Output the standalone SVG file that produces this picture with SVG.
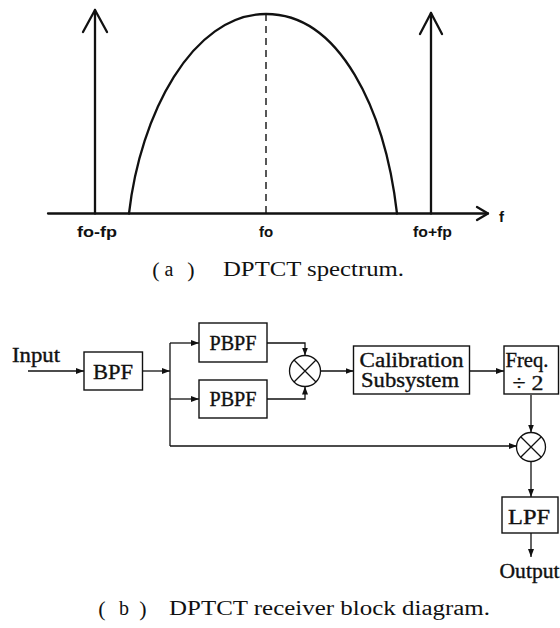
<svg xmlns="http://www.w3.org/2000/svg" width="560" height="628" viewBox="0 0 560 628">
<style>
.thick{fill:none;stroke:#111;stroke-width:2.3;stroke-linecap:round;stroke-linejoin:round}
.box{fill:#fff;stroke:#111;stroke-width:1.4}
.ln{fill:none;stroke:#111;stroke-width:1.3}
.lab{font-family:"Liberation Serif","Times New Roman",serif;font-size:20px;fill:#111;stroke:#111;stroke-width:0.35;text-anchor:middle}
.cap{font-family:"Liberation Serif","Times New Roman",serif;font-size:20px;fill:#111}
.par{font-family:"Liberation Serif","Times New Roman",serif;font-size:22px;fill:#111;text-anchor:middle}
.sans{font-family:"Liberation Sans",Arial,sans-serif;font-weight:bold;font-size:15px;fill:#111;text-anchor:middle}
</style>
<defs>
<marker id="ah" markerUnits="userSpaceOnUse" markerWidth="9" markerHeight="7" refX="8" refY="3" orient="auto">
<path d="M0,0 L8,3 L0,6 z" fill="#111"/>
</marker>
</defs>
<rect width="560" height="628" fill="#fff"/>

<!-- (a) spectrum -->
<g id="spectrum">
<path class="thick" d="M48,213.5 H488"/>
<polyline class="thick" points="477,207 488,213.5 477,220"/>
<path class="thick" d="M95,213.5 V10"/>
<polyline class="thick" points="83,32 95,10 107,32"/>
<path class="thick" d="M431,213.5 V13"/>
<polyline class="thick" points="420,34 431,13 442,34"/>
<path class="thick" d="M129,213.5 C140,115 192,14 266,14 C340,14 385,110 397,213.5"/>
<path d="M266,14 V213" fill="none" stroke="#111" stroke-width="1.4" stroke-dasharray="7,5"/>
<text class="sans" x="501.5" y="222" font-size="20">f</text>
<text class="sans" x="97" y="237" textLength="40" lengthAdjust="spacingAndGlyphs">fo-fp</text>
<text class="sans" x="266" y="237">fo</text>
<text class="sans" x="432.5" y="237" textLength="39" lengthAdjust="spacingAndGlyphs">fo+fp</text>
</g>
<g id="caption-a">
<text class="par" x="156" y="277">(</text>
<text class="cap" x="169" y="276" text-anchor="middle">a</text>
<text class="par" x="191" y="277">)</text>
<text class="cap" x="223" y="276" textLength="181" lengthAdjust="spacingAndGlyphs">DPTCT spectrum.</text>
</g>

<!-- (b) block diagram -->
<g id="connectors">
<path class="ln" d="M28,371 H84" marker-end="url(#ah)"/>
<path class="ln" d="M142.5,371 H170" marker-end="url(#ah)"/>
<path class="ln" d="M170,343 V446"/>
<path class="ln" d="M170,343 H199" marker-end="url(#ah)"/>
<path class="ln" d="M170,399 H199" marker-end="url(#ah)"/>
<path class="ln" d="M170,446 H517" marker-end="url(#ah)"/>
<path class="ln" d="M267,343 H305 V355.5" marker-end="url(#ah)"/>
<path class="ln" d="M267,399 H305 V386.5" marker-end="url(#ah)"/>
<path class="ln" d="M320.5,371 H353.5" marker-end="url(#ah)"/>
<path class="ln" d="M469.5,371 H504" marker-end="url(#ah)"/>
<path class="ln" d="M531,395 V432.5" marker-end="url(#ah)"/>
<path class="ln" d="M531,461.5 V497" marker-end="url(#ah)"/>
<path class="ln" d="M531,533 V557" marker-end="url(#ah)"/>
</g>

<g id="input"><text class="lab" x="36" y="362" textLength="48" lengthAdjust="spacingAndGlyphs">Input</text></g>

<g id="bpf">
<rect class="box" x="84" y="352" width="58.5" height="38"/>
<text class="lab" x="113" y="379" textLength="40" lengthAdjust="spacingAndGlyphs">BPF</text>
</g>
<g id="pbpf1">
<rect class="box" x="199" y="323" width="68" height="39"/>
<text class="lab" x="233" y="350" textLength="47" lengthAdjust="spacingAndGlyphs">PBPF</text>
</g>
<g id="pbpf2">
<rect class="box" x="199" y="380" width="68" height="38"/>
<text class="lab" x="233" y="406" textLength="47" lengthAdjust="spacingAndGlyphs">PBPF</text>
</g>
<g id="mixer1">
<circle class="ln" cx="305" cy="371" r="15.5"/>
<path class="ln" d="M294,360 L316,382 M316,360 L294,382"/>
</g>
<g id="calibration">
<rect class="box" x="353.5" y="346" width="116" height="48"/>
<text class="lab" x="411.5" y="367" textLength="104" lengthAdjust="spacingAndGlyphs">Calibration</text>
<text class="lab" x="410" y="387" textLength="98" lengthAdjust="spacingAndGlyphs">Subsystem</text>
</g>
<g id="freq">
<rect class="box" x="504" y="346" width="54.5" height="48"/>
<text class="lab" x="527" y="367" textLength="43" lengthAdjust="spacingAndGlyphs">Freq.</text>
<text class="lab" x="528" y="390" textLength="31" lengthAdjust="spacingAndGlyphs">÷ 2</text>
</g>
<g id="mixer2">
<circle class="ln" cx="531" cy="447" r="14.5"/>
<path class="ln" d="M520.7,436.7 L541.3,457.3 M541.3,436.7 L520.7,457.3"/>
</g>
<g id="lpf">
<rect class="box" x="502" y="497" width="56" height="36"/>
<text class="lab" x="529" y="524" textLength="42" lengthAdjust="spacingAndGlyphs">LPF</text>
</g>
<g id="output"><text class="lab" x="529.5" y="578" textLength="60" lengthAdjust="spacingAndGlyphs">Output</text></g>

<g id="caption-b">
<text class="par" x="102" y="616">(</text>
<text class="cap" x="124" y="615" text-anchor="middle">b</text>
<text class="par" x="143" y="616">)</text>
<text class="cap" x="169" y="615" textLength="321" lengthAdjust="spacingAndGlyphs">DPTCT receiver block diagram.</text>
</g>
</svg>
